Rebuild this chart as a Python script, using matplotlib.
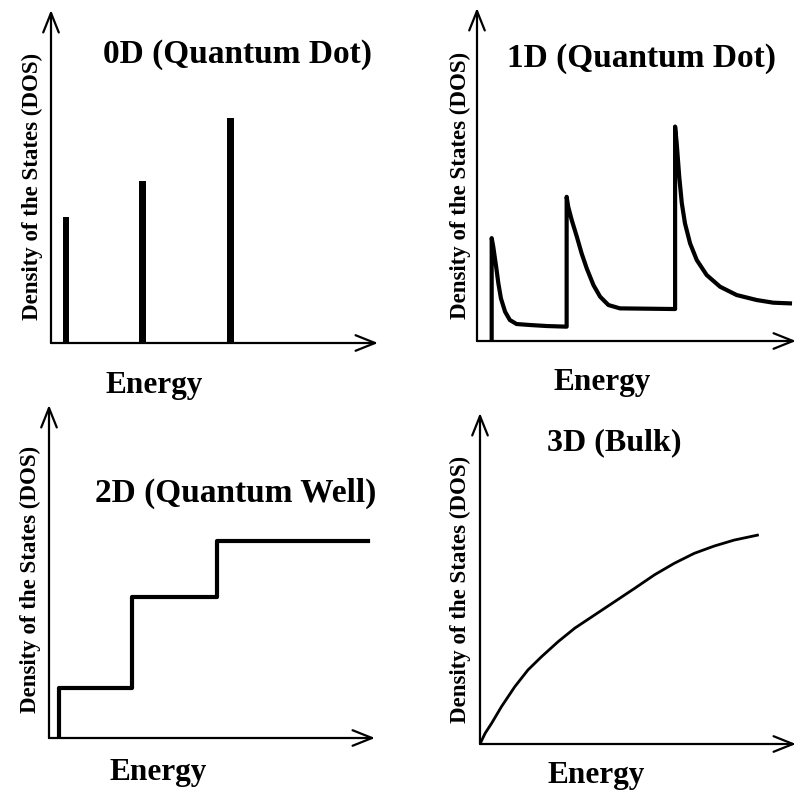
import matplotlib.pyplot as plt

W, H = 797, 792

# 0D: discrete levels (energy, DOS)
e_0d = [4.6, 28.1, 55.0]
dos_0d = [37.8, 48.6, 67.6]

# 1D (energy, DOS)
e_1d = [4.6, 4.6, 5.1, 6.0, 6.7, 7.5, 8.8, 10.3, 12.4, 16.6, 21.8, 28.1,
        28.1, 28.6, 29.7, 31.3, 32.8, 34.4, 36.5, 38.6, 41.2, 44.8, 62.1,
        62.1, 62.6, 63.4, 64.2, 65.2, 66.8, 68.9, 72.0, 76.2, 81.4, 87.7, 92.9, 98.1]
dos_1d = [0.0, 30.9, 28.3, 22.3, 17.3, 12.8, 8.8, 6.3, 5.1, 4.8, 4.5, 4.3,
          43.3, 40.3, 36.3, 31.3, 26.3, 21.8, 16.8, 13.3, 10.8, 9.8, 9.6,
          64.4, 59.4, 49.3, 41.4, 35.3, 29.3, 24.3, 19.8, 16.3, 13.8, 12.3, 11.5, 11.3]

# 2D: step edges and levels
e_2d = [3.1, 25.5, 51.5, 97.9]
dos_2d = [15.0, 42.3, 59.2]

# 3D: sqrt-like rise
e_3d = [0.0, 1.6, 3.7, 6.8, 11.0, 15.2, 19.5, 24.7, 30.0, 36.3, 42.6,
        48.9, 55.2, 61.5, 67.8, 74.1, 80.4, 87.8]
dos_3d = [0.0, 3.2, 6.3, 11.3, 17.3, 22.4, 26.4, 30.9, 35.0, 39.0, 43.0,
          47.0, 51.1, 54.6, 57.6, 59.8, 61.6, 63.1]

titles = ["0D (Quantum Dot)", "1D (Quantum Dot)", "2D (Quantum Well)", "3D (Bulk)"]
ylab = "Density of the States (DOS)"
xlab = "Energy"

serif = "Liberation Serif"

fig = plt.figure(figsize=(W / 100, H / 100), dpi=100)


def make_ax(left, top, right, bottom):
    ax = fig.add_axes([left / W, 1 - bottom / H, (right - left) / W, (bottom - top) / H])
    ax.set_xlim(0, 100)
    ax.set_ylim(0, 100)
    ax.axis("off")
    arrow = dict(arrowstyle="->,head_length=1.0,head_width=0.4", lw=1.6, color="black",
                 shrinkA=0, shrinkB=0, mutation_scale=14)
    ax.annotate("", xy=(0, 1), xytext=(0, 0), xycoords="axes fraction",
                arrowprops=arrow, annotation_clip=False)
    ax.annotate("", xy=(1, 0), xytext=(0, 0), xycoords="axes fraction",
                arrowprops=arrow, annotation_clip=False)
    return ax


def txt(x, y, s, **kw):
    fig.text(x / W, 1 - y / H, s, family=serif, weight="bold", color="black", **kw)


# 0D panel
ax0 = make_ax(51, 10, 378, 343)
ax0.bar(e_0d, dos_0d, width=2.1, color="black")

# 1D panel
ax1 = make_ax(477, 8, 796, 341)
ax1.plot(e_1d, dos_1d, color="black", lw=3, solid_joinstyle="round")

# 2D panel
ax2 = make_ax(49, 405, 375, 738)
ax2.plot([e_2d[0]] + e_2d, [0] + dos_2d + [dos_2d[-1]], drawstyle="steps-post",
         color="black", lw=3)

# 3D panel
ax3 = make_ax(480, 413, 796, 744)
ax3.plot(e_3d, dos_3d, color="black", lw=2, solid_joinstyle="round")

# titles
txt(103, 63, titles[0], fontsize=24, va="baseline")
txt(507, 67, titles[1], fontsize=24, va="baseline")
txt(95, 502, titles[2], fontsize=24, va="baseline")
txt(547, 450, titles[3], fontsize=23, va="baseline")

# y labels
for x, y in [(32, 186), (460, 185), (30, 579), (460, 589)]:
    txt(x, y, ylab, fontsize=16.5, rotation=90, ha="center", va="center")

# x labels
for x, y in [(106, 393), (553, 390), (110, 780), (548, 783)]:
    txt(x, y, xlab, fontsize=22.5, va="baseline")

plt.savefig("out.png", dpi=100)
